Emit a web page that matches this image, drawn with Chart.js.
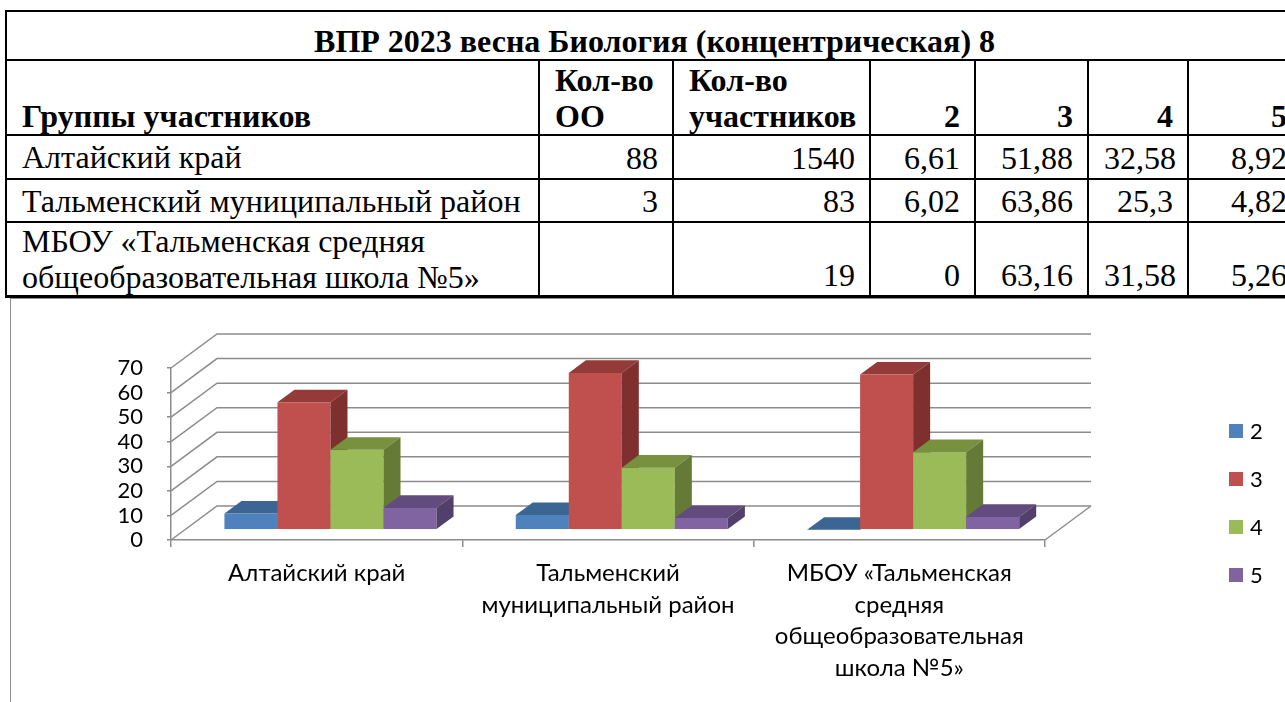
<!DOCTYPE html>
<html lang="ru">
<head>
<meta charset="utf-8">
<title>ВПР 2023 весна Биология (концентрическая) 8</title>
<script src="https://cdn.jsdelivr.net/npm/chart.js@4.4.0/dist/chart.umd.min.js"></script>
<style>
  html, body { margin: 0; padding: 0; background: #fff; overflow: hidden; }
  body { width: 1285px; height: 702px; position: relative; }
  #report {
    position: absolute; left: 5px; top: 10px;
    border-collapse: collapse; table-layout: fixed; width: 1296px;
    font-family: "Liberation Serif", "Times New Roman", serif;
    font-size: 32px; color: #000;
  }
  #report td { border: 2px solid #000; padding: 0 14px 0 15px; line-height: 36px; white-space: nowrap; overflow: hidden; }
  #report td.num { text-align: right; vertical-align: bottom; padding-bottom: 2px; }
  #report td.name { white-space: normal; vertical-align: middle; }
  #report tr.title td { text-align: center; font-weight: bold; height: 47px; vertical-align: bottom; padding-bottom: 0; }
  #report tr.head td { font-weight: bold; vertical-align: bottom; height: 73px; white-space: normal; }
  #report tr.last td { border-bottom: 3px solid #000; }
  #frame {
    position: absolute; left: 10px; top: 298px; width: 1300px; height: 420px;
    border-left: 1.5px solid #8c8c8c; border-top: 1.5px solid #8c8c8c;
  }
  #chartBox { position: absolute; left: 0; top: 298px; width: 1285px; height: 404px; }
</style>
</head>
<body>
<table id="report">
  <colgroup>
    <col style="width:533px"><col style="width:134px"><col style="width:197px">
    <col style="width:105px"><col style="width:113px"><col style="width:100px"><col style="width:114px">
  </colgroup>
  <tbody id="reportBody"></tbody>
</table>
<div id="frame"></div>
<div id="chartBox"><canvas id="chart" width="1285" height="404"></canvas></div>

<script>
const TITLE = "ВПР 2023 весна Биология (концентрическая) 8";
const CATEGORIES = [
  ["Алтайский край"],
  ["Тальменский", "муниципальный район"],
  ["МБОУ «Тальменская", "средняя", "общеобразовательная", "школа №5»"]
];
const SERIES = ["2", "3", "4", "5"];
const OO_COUNT = [88, 3, null];
const PARTICIPANTS = [1540, 83, 19];
const GRADE_2 = [6.61, 6.02, 0];
const GRADE_3 = [51.88, 63.86, 63.16];
const GRADE_4 = [32.58, 25.3, 31.58];
const GRADE_5 = [8.92, 4.82, 5.26];
const Y_TICKS = [0, 10, 20, 30, 40, 50, 60, 70];

// front / top / side colours of each box
const FACES = [
  { front: "#4f81bd", top: "#3c6594", side: "#355a86" },
  { front: "#c0504d", top: "#943b39", side: "#7e302e" },
  { front: "#9bbb59", top: "#77913f", side: "#657a36" },
  { front: "#8064a2", top: "#624b7e", side: "#52406b" }
];
const GRID = "#8c8c8c";
const FONT = "Lato, 'Noto Sans', sans-serif";
const DEPTH_X = 46;
const DEPTH_Y = -34;

const grades = [GRADE_2, GRADE_3, GRADE_4, GRADE_5];
const fmt = v => (v === null ? "" : String(v).replace(".", ","));

function buildTable() {
  const body = document.getElementById("reportBody");
  let html = `<tr class="title"><td colspan="7">${TITLE}</td></tr>`;
  html += `<tr class="head"><td>Группы участников</td><td>Кол-во ОО</td><td>Кол-во участников</td>`;
  SERIES.forEach(s => { html += `<td style="text-align:right">${s}</td>`; });
  html += `</tr>`;

  CATEGORIES.forEach((lines, i) => {
    const cls = i === CATEGORIES.length - 1 ? "last" : "";
    html += `<tr class="${cls}"><td class="name">${lines.join(" ")}</td>`;
    html += `<td class="num">${fmt(OO_COUNT[i])}</td><td class="num">${fmt(PARTICIPANTS[i])}</td>`;
    grades.forEach(g => { html += `<td class="num">${fmt(g[i])}</td>`; });
    html += `</tr>`;
  });
  body.innerHTML = html;

  const rows = body.querySelectorAll("tr");
  rows[2].style.height = "44px";
  rows[3].style.height = "43px";
  rows[4].style.height = "74px";
}

const wallsPlugin = {
  id: "walls",
  beforeDatasetsDraw(chart) {
    const { ctx, chartArea: a, scales: { y } } = chart;
    ctx.save();
    ctx.strokeStyle = GRID;
    ctx.lineWidth = 1.5;
    Y_TICKS.forEach(v => {
      const py = y.getPixelForValue(v);
      ctx.beginPath();
      ctx.moveTo(a.left, py);
      ctx.lineTo(a.left + DEPTH_X, py + DEPTH_Y);
      ctx.lineTo(a.right + DEPTH_X, py + DEPTH_Y);
      ctx.stroke();
    });
    // right edge of the floor
    ctx.beginPath();
    ctx.moveTo(a.right, a.bottom);
    ctx.lineTo(a.right + DEPTH_X, a.bottom + DEPTH_Y);
    ctx.stroke();
    ctx.restore();
  }
};

function drawBox(ctx, left, right, top, base, f) {
  const fx = DEPTH_X * 0.3, fy = DEPTH_Y * 0.3;
  const dx = DEPTH_X * 0.37, dy = DEPTH_Y * 0.37;
  const l = left + fx, r = right + fx, t = top + fy, b = base + fy;

  ctx.fillStyle = f.front;
  ctx.fillRect(l, t, r - l, b - t);

  ctx.fillStyle = f.top;
  ctx.beginPath();
  ctx.moveTo(l, t); ctx.lineTo(r, t); ctx.lineTo(r + dx, t + dy); ctx.lineTo(l + dx, t + dy);
  ctx.closePath();
  ctx.fill();

  ctx.fillStyle = f.side;
  ctx.beginPath();
  ctx.moveTo(r, t); ctx.lineTo(r + dx, t + dy); ctx.lineTo(r + dx, b + dy); ctx.lineTo(r, b);
  ctx.closePath();
  ctx.fill();
}

const boxesPlugin = {
  id: "boxes",
  afterDatasetsDraw(chart) {
    const ctx = chart.ctx;
    ctx.save();
    CATEGORIES.forEach((_, j) => {
      chart.data.datasets.forEach((ds, i) => {
        const bar = chart.getDatasetMeta(i).data[j];
        const p = bar.getProps(["x", "y", "base", "width"], true);
        drawBox(ctx, p.x - p.width / 2, p.x + p.width / 2, p.y, p.base, FACES[i]);
      });
    });
    ctx.restore();
  },
  afterDraw(chart) {
    // legend on the right
    const ctx = chart.ctx;
    ctx.save();
    ctx.font = "22px " + FONT;
    ctx.textBaseline = "middle";
    chart.data.datasets.forEach((ds, i) => {
      const cy = 133 + i * 48;
      ctx.fillStyle = FACES[i].front;
      ctx.fillRect(1229, cy - 7, 14, 14);
      ctx.fillStyle = "#000";
      ctx.fillText(ds.label, 1250, cy + 1);
    });
    ctx.restore();
  }
};

function buildChart() {
  const ctx = document.getElementById("chart").getContext("2d");
  return new Chart(ctx, {
    type: "bar",
    data: {
      labels: CATEGORIES,
      datasets: SERIES.map((name, i) => ({
        label: name,
        data: grades[i],
        backgroundColor: "rgba(0,0,0,0)",
        categoryPercentage: 0.728,
        barPercentage: 1
      }))
    },
    options: {
      responsive: false,
      animation: false,
      layout: { padding: { top: 70, right: 240, bottom: 0, left: 0 } },
      plugins: { legend: { display: false }, tooltip: { enabled: false } },
      scales: {
        x: {
          afterFit: s => { s.height = 162; },
          grid: { drawOnChartArea: false, drawTicks: true, tickLength: 7, color: GRID, lineWidth: 1.5 },
          border: { display: true, color: GRID, width: 1.5 },
          ticks: {
            color: "#000",
            padding: 11,
            maxRotation: 0,
            autoSkip: false,
            font: { family: FONT, size: 24, lineHeight: "31.5px" }
          }
        },
        y: {
          min: 0,
          max: 70,
          afterFit: s => { s.width = 171; },
          grid: { drawOnChartArea: false, drawTicks: true, tickLength: 4, color: GRID, lineWidth: 1.5 },
          border: { display: true, color: GRID, width: 1.5 },
          ticks: {
            stepSize: 10,
            autoSkip: false,
            color: "#000",
            padding: 24,
            font: { family: FONT, size: 22 }
          }
        }
      }
    },
    plugins: [wallsPlugin, boxesPlugin]
  });
}

buildTable();
document.fonts.ready.then(buildChart);
</script>
</body>
</html>
